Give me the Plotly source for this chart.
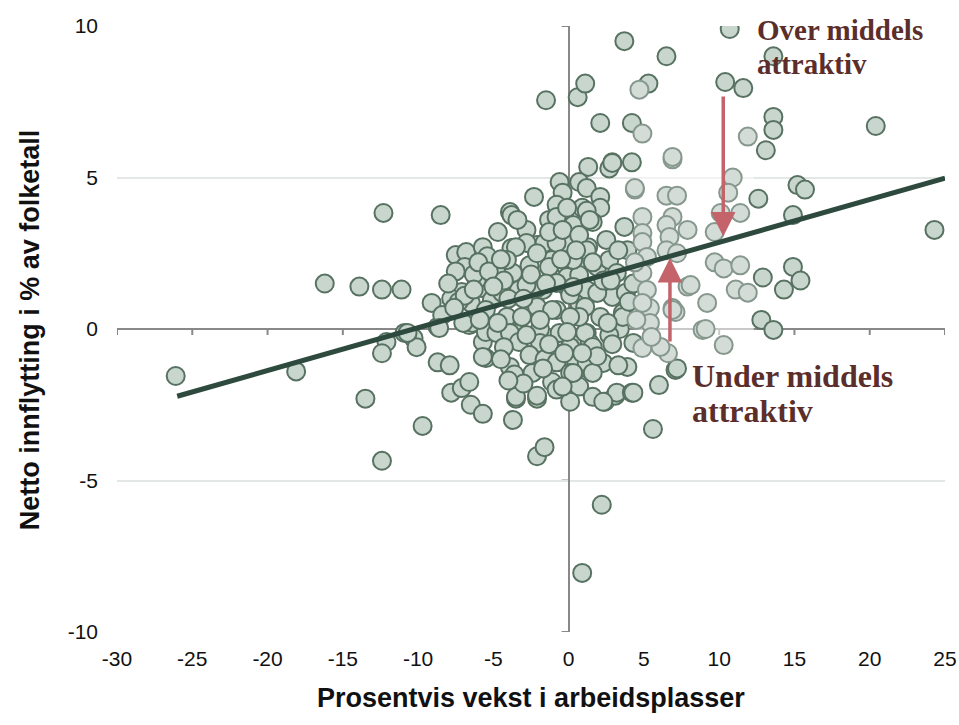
import plotly.graph_objects as go

# ---- data ----
pts = [
    # left / outliers
    (-26.1,-1.55),(-18.1,-1.4),(-16.2,1.5),(-13.9,1.4),(-12.4,1.3),(-11.1,1.3),(-12.3,3.83),(-8.5,3.76),
    (-13.5,-2.3),(-9.7,-3.2),(-12.4,-4.35),(-12.1,-0.43),(-12.4,-0.8),(-10.9,-0.13),(-10.3,-0.3),(-10.1,-0.6),
    (-8.7,-1.1),(-7.9,-1.2),(-7.8,-2.1),(-7.1,-1.95),(-6.6,-1.75),(-6.5,-2.5),(-5.7,-2.8),(-5.7,-0.43),
    (-5.5,-0.96),(-6.6,0.13),(-8.7,0.07),(-3.7,-3.0),(-3.5,-2.3),(-2.1,-2.3),(-2.1,-4.2),(-1.6,-3.9),
    (0.9,-8.05),(2.2,-5.8),(5.6,-3.3),(2.4,-2.4),(3.1,-2.2),(3.2,-2.1),(4.2,-2.1),(3.9,-1.25),(6.0,-1.85),
    (7.1,-1.35),(6.6,-0.8),(4.9,-0.63),(6.1,-0.59),(5.4,0.69),(6.9,0.69),(8.9,-0.03),(0.5,-0.46),
    (-9.1,0.86),(-8.4,0.46),(-8.6,0.03),(-10.7,-0.13),
    # right side
    (10.7,9.9),(3.7,9.5),(6.5,9.0),(4.7,7.9),(5.3,8.1),(10.4,8.15),(11.6,7.95),(13.6,9.0),(13.6,7.0),
    (13.6,6.57),(13.1,5.9),(11.9,6.35),(20.4,6.7),(2.1,6.8),(4.2,6.8),(4.9,6.45),(6.9,5.6),(2.9,5.5),
    (2.7,5.3),(4.2,5.5),(10.9,5.0),(10.6,4.5),(15.2,4.75),(15.7,4.6),(4.4,4.6),(6.5,4.4),(7.2,4.4),
    (12.6,4.3),(24.3,3.27),(14.9,3.76),(11.4,3.83),(10.1,3.83),(9.7,3.2),(14.9,2.05),(15.4,1.6),(14.3,1.3),
    (12.9,1.7),(9.7,2.2),(10.3,2.0),(11.4,2.1),(11.1,1.3),(11.9,1.2),(9.2,0.86),(12.8,0.3),(13.6,-0.03),
    (9.1,0.0),(10.3,-0.53),(7.9,1.4),(7.1,0.56),(7.2,-1.3),(-1.5,7.55),(0.6,7.65),(1.1,8.1),
    # upper middle
    (1.3,5.35),(2.9,5.48),(6.9,5.68),(4.4,4.65),(-0.6,4.85),(0.7,4.85),(-0.4,4.5),(1.2,4.65),(2.1,4.36),
    (-2.3,4.36),(-3.9,3.86),(-0.8,4.1),(0.9,4.0),(2.1,4.0),(0.3,3.43),(1.6,3.53),(-1.3,3.6),(3.7,3.37),
    (4.9,3.7),(4.9,3.17),(6.9,3.7),(7.9,3.27),(6.5,3.43),(6.7,3.04),(-2.8,3.27),(2.5,2.94),(1.3,2.7),
    (-0.1,2.84),(-2.1,2.77),(-3.8,2.67),(4.9,2.87),(5.2,2.38),(6.5,2.6),(7.2,2.5),(3.9,2.6),(-2.6,2.1),
    (-1.1,2.28),(0.9,2.28),(0.3,1.72),(1.9,2.05),(2.7,2.28),(3.2,1.85),(4.9,1.85),(5.2,1.29),(4.9,0.86),
    (5.4,0.2),(5.5,-0.26),(8.1,1.45),(6.9,0.63),(3.6,0.53),(2.9,1.06),(1.6,1.19),(-0.1,1.39),(-1.7,1.29),
    (-3.3,1.52),(-2.4,0.63),(-0.8,0.63),(0.7,0.86),(2.1,0.4),(3.4,0.0),(1.2,-0.13),(-0.4,-0.26),(-1.9,0.0),
    (-3.5,-0.13),(4.3,-0.46),(1.4,-0.46),
    # core cluster
    (-7.5,2.44),(-6.8,2.54),(-6.9,2.05),(-7.5,1.9),(-5.7,2.7),(-5.4,2.4),(-4.7,3.2),(-3.8,3.76),(-3.4,3.6),
    (-2.8,2.84),(-1.6,2.84),(-0.8,3.7),(-0.1,4.0),(1.2,3.9),(-7.1,1.22),(-6.5,0.86),(-5.8,1.35),(-5.1,0.96),
    (-4.4,1.19),(-3.7,1.85),(-3.3,1.29),(-2.1,1.35),(-1.1,1.72),(-0.1,1.72),(0.7,1.78),(0.1,1.12),(1.2,1.29),
    (1.1,0.73),(-2.1,0.73),(-4.1,0.4),(-5.5,0.63),(-6.4,0.2),(-5.5,-0.1),(-4.8,-0.13),(-3.9,-0.13),
    (-3.3,-0.43),(-1.9,-0.46),(-0.6,-0.13),(0.1,-0.59),(1.1,-0.13),(1.6,-0.59),(-5.7,-0.92),(-2.6,-0.86),
    (-1.6,-1.0),(-0.8,-1.1),(0.5,-1.09),(-3.9,-1.25),(-3.6,-1.5),(-2.4,-1.45),(-1.1,-1.75),(0.1,-1.45),
    (1.2,-1.29),(-3.5,-2.24),(-2.1,-2.2),(-0.8,-2.0),(0.7,-1.9),(1.6,-2.24),(-4.7,0.2),(-6.1,1.62),
    (-4.8,1.88),(-2.8,1.45),(-1.3,2.05),(-0.8,1.52),(0.3,1.39),(1.9,1.19),(0.7,0.4),(0.1,0.4),(-1.1,0.63),
    (-1.9,0.3),(-3.1,0.4),(-0.8,2.84),(-2.1,2.5),(-3.5,2.7),(-4.1,2.28),(-1.3,3.2),(-0.4,3.27),(0.7,3.1),
    (1.4,3.6),(1.2,2.6),(0.3,2.28),(-0.1,-0.1),(1.2,-1.12),(2.3,-1.12),(1.6,-1.45),(0.3,-1.45),(0.1,-2.4),
    (-0.4,-1.9),(2.3,-2.4),(4.3,-2.1),(3.6,0.4),(2.7,-0.2),
    (-7.8,1.0),(-7.3,0.9),(-6.9,1.1),(-7.6,0.7),(-8.0,1.5),(-6.3,1.8),(-6.0,2.2),(-5.3,1.9),(-4.5,2.3),
    (-4.3,1.6),(-5.0,1.4),(-4.0,1.0),(-3.0,1.0),(-2.5,1.8),(-1.5,1.5),(-0.5,2.3),(0.5,2.6),(1.6,2.2),
    (2.3,1.6),(2.8,1.6),(3.3,2.6),(3.8,1.2),(4.3,1.5),(4.4,2.2),(4.0,0.9),(2.6,0.2),(1.9,-0.9),(2.9,-0.5),
    (3.3,-1.2),(4.5,0.3),(-1.3,-0.5),(-2.8,-0.2),(-4.3,-0.6),(-4.5,-1.0),(-3.0,-1.8),(-1.7,-1.3),
    (-0.3,-0.8),(0.9,-0.8),(-4.0,-1.7),(-6.3,1.3),(-7.0,0.2),(-5.9,0.3),
]
growth_x = [p[0] for p in pts]
migration_y = [p[1] for p in pts]

trend_x = [-26.0, 25.0]
trend_y = [-2.22, 4.98]

x_ticks = [-30, -25, -20, -15, -10, -5, 0, 5, 10, 15, 20, 25]
x_ticktext = ["-30", "-25", "-20", "-15", "-10", "-5", "0", "5", "10", "15", "20", "25"]
y_ticks = [-10, -5, 0, 5, 10]
y_ticktext = ["-10", "-5", "0", "5", "10"]

x_title = "Prosentvis vekst i arbeidsplasser"
y_title = "Netto innflytting i % av folketall"
over_lines = ["Over middels", "attraktiv"]
under_lines = ["Under middels", "attraktiv"]

# faded pasted panel (data extent)
panel = dict(x0=4.4, x1=12.3, y0=-0.8, y1=7.9)

inside = [(panel["x0"] <= x <= panel["x1"]) and (panel["y0"] <= y <= panel["y1"])
          for x, y in zip(growth_x, migration_y)]
out_x = [x for x, i in zip(growth_x, inside) if not i]
out_y = [y for y, i in zip(migration_y, inside) if not i]
in_x = [x for x, i in zip(growth_x, inside) if i]
in_y = [y for y, i in zip(migration_y, inside) if i]

fig = go.Figure()
fig.add_trace(go.Scatter(
    x=out_x, y=out_y, mode="markers",
    marker=dict(size=18, color="#c8d6ce", line=dict(color="#587262", width=2)),
    showlegend=False, hoverinfo="x+y"))
fig.add_trace(go.Scatter(
    x=in_x, y=in_y, mode="markers",
    marker=dict(size=18, color="#d3dcd7", line=dict(color="#86988d", width=2)),
    showlegend=False, hoverinfo="x+y"))
fig.add_trace(go.Scatter(
    x=trend_x, y=trend_y, mode="lines",
    line=dict(color="#2e4a3e", width=5), showlegend=False, hoverinfo="skip"))

shapes = []
for t in x_ticks:
    shapes.append(dict(type="line", xref="x", yref="y", ysizemode="pixel", yanchor=0,
                       x0=t, x1=t, y0=0, y1=-6, line=dict(color="#888888", width=2), layer="below"))
for t in y_ticks:
    shapes.append(dict(type="line", xref="x", yref="y", xsizemode="pixel", xanchor=0,
                       x0=-7, x1=0, y0=t, y1=t, line=dict(color="#888888", width=2), layer="below"))
shapes.append(dict(type="rect", xref="x", yref="y", x0=panel["x0"], x1=panel["x1"],
                   y0=panel["y0"], y1=panel["y1"],
                   fillcolor="rgba(255,255,255,0.55)", line=dict(width=0), layer="between"))

serif_over = dict(family="Liberation Serif", size=29, color="#5c2e2b", weight="bold")
serif_under = dict(family="Liberation Serif", size=32, color="#5c2e2b", weight="bold")
annotations = [
    dict(x=10.27, y=3.05, ax=10.27, ay=7.72, xref="x", yref="y", axref="x", ayref="y",
         showarrow=True, arrowhead=2, arrowsize=1.4, arrowwidth=3.5, arrowcolor="#c4646a", text=""),
    dict(x=6.73, y=2.34, ax=6.73, ay=-0.46, xref="x", yref="y", axref="x", ayref="y",
         showarrow=True, arrowhead=2, arrowsize=1.4, arrowwidth=3.5, arrowcolor="#c4646a", text=""),
    dict(x=0.7705, y=0.994, xref="paper", yref="paper", text=over_lines[0], showarrow=False,
         xanchor="left", yanchor="middle", font=serif_over),
    dict(x=0.7705, y=0.938, xref="paper", yref="paper", text=over_lines[1], showarrow=False,
         xanchor="left", yanchor="middle", font=serif_over),
    dict(x=0.692, y=0.422, xref="paper", yref="paper", text=under_lines[0], showarrow=False,
         xanchor="left", yanchor="middle", font=serif_under),
    dict(x=0.692, y=0.364, xref="paper", yref="paper", text=under_lines[1], showarrow=False,
         xanchor="left", yanchor="middle", font=serif_under),
    dict(x=0.500, y=-0.109, xref="paper", yref="paper", text="<b>" + x_title + "</b>", showarrow=False,
         xanchor="center", yanchor="middle", font=dict(family="Liberation Sans", size=27, color="#111111")),
    dict(x=-0.105, y=0.498, xref="paper", yref="paper", text="<b>" + y_title + "</b>", showarrow=False,
         textangle=-90, xanchor="center", yanchor="middle",
         font=dict(family="Liberation Sans", size=27, color="#111111")),
]

fig.update_layout(
    width=959, height=725,
    margin=dict(l=117, r=14, t=26, b=93),
    paper_bgcolor="white", plot_bgcolor="white",
    font=dict(family="Liberation Sans", size=21, color="#111111"),
    shapes=shapes, annotations=annotations,
    xaxis=dict(range=[-30, 25], tickvals=x_ticks, ticktext=x_ticktext, showgrid=False,
               zeroline=True, zerolinecolor="#888888", zerolinewidth=2, showline=False,
               ticks="", ticklabelstandoff=12, fixedrange=True, automargin=False),
    yaxis=dict(range=[-10, 10], tickvals=y_ticks, ticktext=y_ticktext, showgrid=True,
               gridcolor="#e3e7e6", gridwidth=2, zeroline=True, zerolinecolor="#888888",
               zerolinewidth=2, showline=False, ticks="", ticklabelstandoff=18, fixedrange=True,
               automargin=False),
)

fig.write_html("out.html", config={"displayModeBar": False},
               post_script="document.body.style.margin='0';document.body.style.overflow='hidden';")
